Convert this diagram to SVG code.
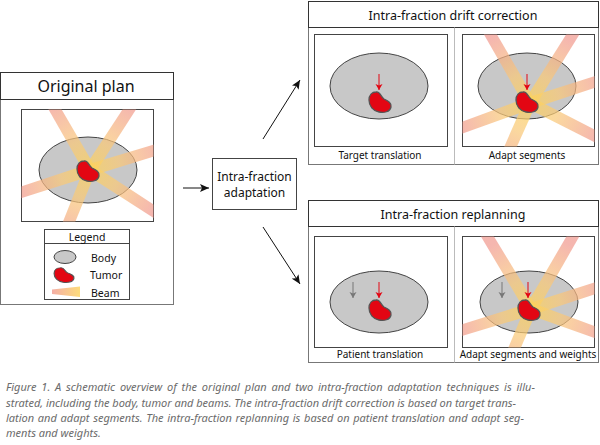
<svg xmlns="http://www.w3.org/2000/svg" xmlns:xlink="http://www.w3.org/1999/xlink" width="600" height="445" viewBox="0 0 600 445">
<style>
.t{font-family:"Noto Sans","Open Sans","Liberation Sans",sans-serif;fill:#111}
.frame{fill:#fff;stroke:#777;stroke-width:1}
.head{fill:#fff;stroke:#333;stroke-width:1}
.img{fill:#fff;stroke:#444;stroke-width:1}
.body{fill:#c8c8c8;stroke:#444;stroke-width:1}
.tumor{fill:#e30613;stroke:#555;stroke-width:1.3}
.beam{fill:url(#bg);fill-opacity:0.72}
.conn{stroke:#111;stroke-width:1;fill:none;marker-end:url(#ah)}
.ra{stroke:#e30613;stroke-width:1;marker-end:url(#rh)}
.ga{stroke:#777;stroke-width:1;marker-end:url(#gh)}
.cap{font-family:"Noto Sans","Open Sans","Liberation Sans",sans-serif;font-style:italic;font-size:11px;fill:#6b6b6b}
</style>
<defs>
<linearGradient id="bg" gradientUnits="userSpaceOnUse" x1="0" y1="0" x2="75" y2="0">
<stop offset="0" stop-color="#fdd35a"/>
<stop offset="0.4" stop-color="#f9c979"/>
<stop offset="1" stop-color="#f19a90"/>
</linearGradient>
<linearGradient id="lg" x1="0" y1="0" x2="1" y2="0">
<stop offset="0" stop-color="#f19a90"/>
<stop offset="1" stop-color="#fdd35a"/>
</linearGradient>
<polygon id="spoke" points="0,-6 110,-5.5 110,5.5 0,6"/>
<path id="tum" d="M -4,-10 C 0,-11 1,-5 4,-3 C 8,-1 12,1 11,5 C 10,10 4,11 -1,10 C -7,9 -11,4 -11,-2 C -11,-7 -8,-10 -4,-10 Z"/>
<marker id="ah" markerUnits="userSpaceOnUse" markerWidth="10" markerHeight="8" refX="9" refY="4" orient="auto"><path d="M0,0 L9,4 L0,8 L2,4 Z" fill="#111"/></marker>
<marker id="rh" markerUnits="userSpaceOnUse" markerWidth="8" markerHeight="8" refX="4" refY="7" orient="0"><path d="M0.5,1 L4,7 L7.5,1 L4,2.5 Z" fill="#e30613"/></marker>
<marker id="gh" markerUnits="userSpaceOnUse" markerWidth="8" markerHeight="8" refX="4" refY="7" orient="0"><path d="M0.5,1 L4,7 L7.5,1 L4,2.5 Z" fill="#777"/></marker>
<clipPath id="c0"><rect x="21.5" y="109.5" width="132" height="112"/></clipPath>
<clipPath id="c1"><rect x="462.5" y="34.5" width="132" height="112"/></clipPath>
<clipPath id="c2"><rect x="462.5" y="236.5" width="132" height="111"/></clipPath>
</defs>

<g id="original-plan">
<rect class="frame" x="0.5" y="72.5" width="173" height="232"/>
<rect class="head" x="0.5" y="72.5" width="173" height="27"/>
<text class="t" x="86" y="92" font-size="16" text-anchor="middle">Original plan</text>
<rect class="img" x="21.5" y="109.5" width="132" height="112"/>
<ellipse class="body" cx="88" cy="170" rx="49" ry="33"/>
<g clip-path="url(#c0)"><g class="beam" transform="translate(90,170)">
<use href="#spoke" transform="rotate(-120)"/><use href="#spoke" transform="rotate(-57)"/><use href="#spoke" transform="rotate(-17)"/><use href="#spoke" transform="rotate(33)"/><use href="#spoke" transform="rotate(112)"/><use href="#spoke" transform="rotate(162)"/>
</g></g>
<use href="#tum" class="tumor" transform="translate(88,171)"/>
<g id="legend">
<rect class="img" x="44.5" y="229.5" width="85" height="70"/>
<line x1="44.5" y1="243.5" x2="129.5" y2="243.5" stroke="#444"/>
<text class="t" x="87" y="240.5" font-size="10.5" text-anchor="middle">Legend</text>
<ellipse class="body" cx="65" cy="257" rx="11" ry="6.5"/>
<use href="#tum" class="tumor" transform="translate(64,275) scale(0.9,0.72)"/>
<polygon points="52,289.5 80,286.5 80,297 52,294" fill="url(#lg)" fill-opacity="0.8"/>
<text class="t" x="91" y="261.5" font-size="10.5">Body</text>
<text class="t" x="90" y="279" font-size="10.5">Tumor</text>
<text class="t" x="91" y="296.5" font-size="10.5">Beam</text>
</g>
</g>

<g id="intra-fraction-adaptation">
<rect class="img" x="212.5" y="158.5" width="84" height="51"/>
<text class="t" x="254.5" y="181" font-size="12" text-anchor="middle">Intra-fraction</text>
<text class="t" x="254.5" y="197" font-size="12" text-anchor="middle">adaptation</text>
</g>

<g id="drift-correction">
<rect class="frame" x="308.5" y="1.5" width="290" height="163"/>
<rect class="head" x="308.5" y="1.5" width="290" height="26"/>
<text class="t" x="453" y="20" font-size="12.5" text-anchor="middle">Intra-fraction drift correction</text>
<line x1="454.5" y1="27.5" x2="454.5" y2="164.5" stroke="#bbb"/>
<rect class="img" x="314.5" y="34.5" width="133" height="112"/>
<ellipse class="body" cx="379" cy="86" rx="49" ry="33"/>
<use href="#tum" class="tumor" transform="translate(380,102)"/>
<line class="ra" x1="379" y1="74" x2="379" y2="90"/>
<text class="t" x="380" y="159" font-size="10" text-anchor="middle">Target translation</text>
<rect class="img" x="462.5" y="34.5" width="132" height="112"/>
<ellipse class="body" cx="527" cy="86" rx="49" ry="33"/>
<g clip-path="url(#c1)"><g class="beam" transform="translate(530,103)">
<use href="#spoke" transform="rotate(-120)"/><use href="#spoke" transform="rotate(-58)"/><use href="#spoke" transform="rotate(-18)"/><use href="#spoke" transform="rotate(27)"/><use href="#spoke" transform="rotate(114)"/><use href="#spoke" transform="rotate(160)"/>
</g></g>
<use href="#tum" class="tumor" transform="translate(527,102)"/>
<line class="ra" x1="527" y1="74" x2="527" y2="90"/>
<text class="t" x="527" y="159" font-size="10" text-anchor="middle">Adapt segments</text>
</g>

<g id="replanning">
<rect class="frame" x="308.5" y="200.5" width="290" height="162"/>
<rect class="head" x="308.5" y="200.5" width="290" height="26"/>
<text class="t" x="453" y="219" font-size="12.5" text-anchor="middle">Intra-fraction replanning</text>
<line x1="454.5" y1="226.5" x2="454.5" y2="362.5" stroke="#bbb"/>
<rect class="img" x="314.5" y="236.5" width="133" height="111"/>
<ellipse class="body" cx="379" cy="302" rx="49" ry="31"/>
<line class="ga" x1="353" y1="282" x2="353" y2="298"/>
<use href="#tum" class="tumor" transform="translate(380,310)"/>
<line class="ra" x1="379" y1="282" x2="379" y2="298"/>
<text class="t" x="380" y="358" font-size="10" text-anchor="middle">Patient translation</text>
<rect class="img" x="462.5" y="236.5" width="132" height="111"/>
<ellipse class="body" cx="529" cy="302" rx="49" ry="31"/>
<line class="ga" x1="502" y1="282" x2="502" y2="298"/>
<g clip-path="url(#c2)"><g class="beam" transform="translate(531,309)">
<use href="#spoke" transform="rotate(-121)"/><use href="#spoke" transform="rotate(-60)"/><use href="#spoke" transform="rotate(-18)"/><use href="#spoke" transform="rotate(20)"/><use href="#spoke" transform="rotate(113)"/><use href="#spoke" transform="rotate(163)"/>
</g></g>
<use href="#tum" class="tumor" transform="translate(529,310)"/>
<line class="ra" x1="528" y1="282" x2="528" y2="298"/>
<text class="t" x="528" y="358" font-size="10" text-anchor="middle">Adapt segments and weights</text>
</g>

<g id="connectors">
<line class="conn" x1="183" y1="188" x2="209" y2="188"/>
<line class="conn" x1="263" y1="139" x2="300" y2="80"/>
<line class="conn" x1="263" y1="227" x2="300" y2="284"/>
</g>

<g id="caption">
<text class="cap" x="6" y="391" word-spacing="2">Figure 1. A schematic overview of the original plan and two intra-fraction adaptation techniques is illu-</text>
<text class="cap" x="6" y="406.5" word-spacing="-0.1">strated, including the body, tumor and beams. The intra-fraction drift correction is based on target trans-</text>
<text class="cap" x="6" y="422" word-spacing="0.85">lation and adapt segments. The intra-fraction replanning is based on patient translation and adapt seg-</text>
<text class="cap" x="6" y="437">ments and weights.</text>
</g>
</svg>
